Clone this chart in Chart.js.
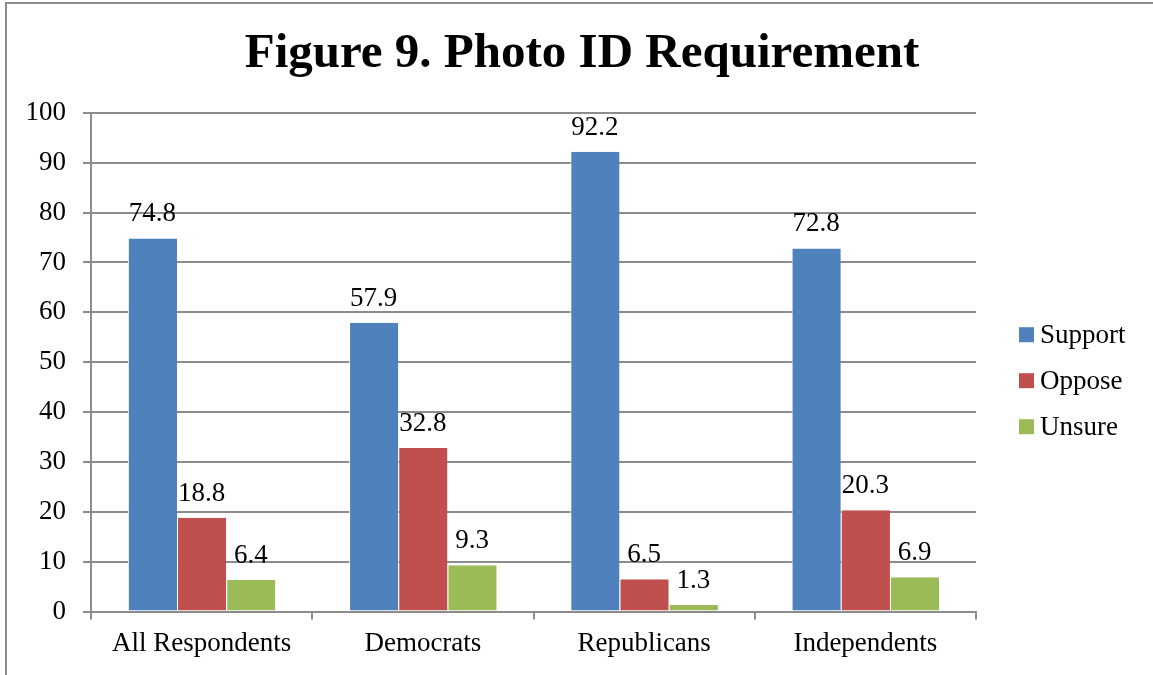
<!DOCTYPE html>
<html>
<head>
<meta charset="utf-8">
<script src="https://cdn.jsdelivr.net/npm/chart.js@4"></script>
<style>
  html, body { margin: 0; padding: 0; background: #fff; }
  #wrap { position: relative; width: 1153px; height: 675px; overflow: hidden; }
  #frame { position: absolute; left: 5px; top: 2px; width: 1200px; height: 720px; border: 2px solid #8c8c8c; }
  canvas { position: absolute; left: 0; top: 0; }
</style>
</head>
<body>
<div id="wrap">
  <div id="frame"></div>
  <canvas id="chart" width="1153" height="675"></canvas>
</div>
<script>
const categories = ["All Respondents", "Democrats", "Republicans", "Independents"];
const support = [74.8, 57.9, 92.2, 72.8];
const oppose = [18.8, 32.8, 6.5, 20.3];
const unsure = [6.4, 9.3, 1.3, 6.9];
const seriesNames = ["Support", "Oppose", "Unsure"];
const seriesColors = ["#4F81BD", "#C0504D", "#9BBB59"];

const FONT = "'Liberation Serif', 'Times New Roman', serif";
const GRID = "#8c8c8c";

/* value labels above each bar */
const barLabels = {
  id: "barLabels",
  afterDatasetsDraw(chart) {
    const ctx = chart.ctx;
    ctx.save();
    ctx.font = "27px " + FONT;
    ctx.fillStyle = "#000";
    ctx.textAlign = "center";
    ctx.textBaseline = "alphabetic";
    chart.data.datasets.forEach((ds, i) => {
      chart.getDatasetMeta(i).data.forEach((bar, j) => {
        ctx.fillText(ds.data[j].toFixed(1), bar.x, bar.y - 17);
      });
    });
    ctx.restore();
  }
};

/* legend to the right of the plot, Excel style */
const sideLegend = {
  id: "sideLegend",
  afterDraw(chart) {
    const ctx = chart.ctx;
    const area = chart.chartArea;
    const x = area.right + 43;
    const midY = (area.top + area.bottom) / 2 + 18;
    ctx.save();
    ctx.font = "27px " + FONT;
    ctx.textAlign = "left";
    ctx.textBaseline = "alphabetic";
    chart.data.datasets.forEach((ds, i) => {
      const cy = midY + (i - 1) * 46;
      ctx.fillStyle = ds.backgroundColor;
      ctx.fillRect(x, cy - 7, 15, 15);
      ctx.fillStyle = "#000";
      ctx.fillText(ds.label, x + 21, cy + 9);
    });
    ctx.restore();
  }
};

const ctx = document.getElementById("chart").getContext("2d");
new Chart(ctx, {
  type: "bar",
  data: {
    labels: categories,
    datasets: [support, oppose, unsure].map((d, i) => ({
      label: seriesNames[i],
      data: d,
      backgroundColor: seriesColors[i],
      borderColor: "#ffffff",
      borderWidth: { left: 1, right: 0, top: 0, bottom: 0 },
      borderSkipped: false,
      categoryPercentage: 0.667,
      barPercentage: 1.0
    }))
  },
  options: {
    responsive: false,
    animation: false,
    layout: { padding: { left: 11, right: 0, top: 0, bottom: 7 } },
    plugins: {
      title: {
        display: true,
        text: "Figure 9. Photo ID Requirement",
        color: "#000",
        font: { family: FONT, size: 49, weight: "bold" },
        padding: { top: 25, bottom: 29 }
      },
      legend: { display: false },
      tooltip: { enabled: false }
    },
    scales: {
      x: {
        grid: {
          display: true,
          offset: true,
          drawOnChartArea: false,
          drawTicks: true,
          tickLength: 8,
          color: GRID,
          lineWidth: 2
        },
        border: { display: true, color: GRID, width: 2 },
        ticks: { color: "#000", font: { family: FONT, size: 27 }, padding: 8 }
      },
      y: {
        min: 0,
        max: 100,
        afterFit(scale) { scale.width = 80; },
        ticks: { stepSize: 10, color: "#000", font: { family: FONT, size: 27 }, padding: 17 },
        grid: { color: GRID, lineWidth: 2, tickLength: 8 },
        border: { display: true, color: GRID, width: 2 }
      },
      // empty axis that only keeps room for the legend on the right
      side: {
        position: "right",
        display: true,
        afterFit(scale) { scale.width = 177; },
        ticks: { display: false },
        grid: { display: false },
        border: { display: false }
      }
    }
  },
  plugins: [barLabels, sideLegend]
});
</script>
</body>
</html>
